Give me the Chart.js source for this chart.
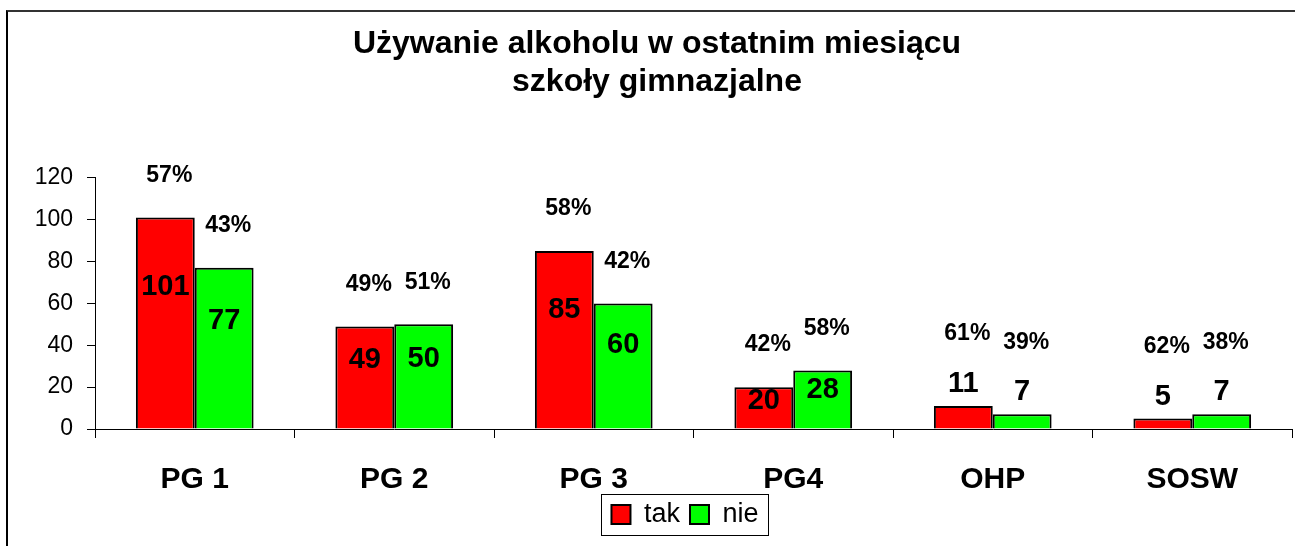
<!DOCTYPE html>
<html lang="pl">
<head>
<meta charset="utf-8">
<script src="https://cdn.jsdelivr.net/npm/chart.js@4.4.0/dist/chart.umd.min.js"></script>
<style>
  body { margin: 0; background: #fff; }
  #wrap { position: relative; width: 1295px; height: 546px; }
  #ramka { position: absolute; left: 6px; top: 10px; width: 1289px; height: 536px;
           border-top: 2px solid #333; border-left: 2px solid #000; pointer-events: none; }
</style>
</head>
<body>
<div id="wrap">
  <canvas id="wykres" width="1295" height="546"></canvas>
  <div id="ramka"></div>
</div>
<script>
const szkoly = ['PG 1', 'PG 2', 'PG 3', 'PG4', 'OHP', 'SOSW'];
const tak = [101, 49, 85, 20, 11, 5];
const nie = [77, 50, 60, 28, 7, 7];
const procTak = [57, 49, 58, 42, 61, 62];
const procNie = [43, 51, 42, 58, 39, 38];
const osY = [0, 20, 40, 60, 80, 100, 120];

const czcionka = 'Liberation Sans, Arial, sans-serif';

// etykiety z liczbą i procentem nad/na słupkach
const etykiety = {
    id: 'etykiety',
    afterDatasetsDraw(chart) {
        const ctx = chart.ctx;
        const y = chart.scales.y;
        const procenty = [procTak, procNie];
        ctx.save();
        ctx.fillStyle = '#000';
        ctx.textAlign = 'center';
        ctx.textBaseline = 'middle';
        chart.data.datasets.forEach((ds, i) => {
            chart.getDatasetMeta(i).data.forEach((bar, j) => {
                const v = ds.data[j];
                const maly = v < 15;
                ctx.font = 'bold 29px ' + czcionka;
                const yLiczby = maly ? bar.y - 22 : y.getPixelForValue(v * 0.67);
                ctx.fillText(v, bar.x, yLiczby);
                ctx.font = 'bold 23px ' + czcionka;
                ctx.fillText(procenty[i][j] + '%', bar.x + 4, maly ? bar.y - 72 : bar.y - 42);
            });
        });
        ctx.restore();
    },
    afterLayout(chart) {
        // legenda w oryginale jest nieco przesunięta w prawo
        if (chart.legend) {
            chart.legend.left += 28;
            chart.legend.right += 28;
        }
    },
    afterDraw(chart) {
        const boxes = chart.legend && chart.legend.legendHitBoxes;
        if (!boxes || !boxes.length) return;
        const ctx = chart.ctx;
        const l = boxes[0].left - 10;
        const last = boxes[boxes.length - 1];
        const r = last.left + last.width + 10;
        const t = boxes[0].top - 7;
        const b = boxes[0].top + boxes[0].height + 7;
        ctx.save();
        ctx.strokeStyle = '#000';
        ctx.lineWidth = 1;
        ctx.strokeRect(Math.round(l) + 0.5, Math.round(t) + 0.5, Math.round(r - l), Math.round(b - t));
        ctx.restore();
    }
};

new Chart(document.getElementById('wykres'), {
    type: 'bar',
    data: {
        labels: szkoly,
        datasets: [
            { label: 'tak', data: tak, backgroundColor: '#ff0000', borderColor: '#000', borderWidth: 2 },
            { label: 'nie', data: nie, backgroundColor: '#00ff00', borderColor: '#000', borderWidth: 2 }
        ]
    },
    options: {
        responsive: false,
        animation: false,
        categoryPercentage: 0.59,
        barPercentage: 1,
        layout: { padding: { left: 22, right: 3, top: 0, bottom: 8 } },
        plugins: {
            title: {
                display: true,
                text: ['Używanie alkoholu w ostatnim miesiącu', 'szkoły gimnazjalne'],
                color: '#000',
                font: { family: czcionka, size: 32, weight: 'bold', lineHeight: 1.2 },
                padding: { top: 25, bottom: 76 }
            },
            legend: {
                position: 'bottom',
                labels: {
                    color: '#000',
                    boxWidth: 19,
                    boxHeight: 19,
                    padding: 10,
                    font: { family: czcionka, size: 27 }
                }
            },
            tooltip: { enabled: false }
        },
        scales: {
            x: {
                grid: { drawOnChartArea: false, tickLength: 9, color: '#000' },
                border: { color: '#000', width: 1 },
                ticks: { color: '#000', padding: 24, font: { family: czcionka, size: 30, weight: 'bold' } },
                afterFit(scale) {
                    const lh = scale.chart.legend ? scale.chart.legend.height : 47;
                    scale.height = 117 - lh - 8;
                }
            },
            y: {
                min: osY[0],
                max: osY[osY.length - 1],
                afterBuildTicks(scale) { scale.ticks = osY.map(v => ({ value: v })); },
                grid: { drawOnChartArea: false, tickLength: 8, color: '#000' },
                border: { color: '#000', width: 1 },
                ticks: { color: '#000', padding: 14, font: { family: czcionka, size: 23 } },
                afterFit(scale) { scale.width = 73; }
            }
        }
    },
    plugins: [etykiety]
});
</script>
</body>
</html>
